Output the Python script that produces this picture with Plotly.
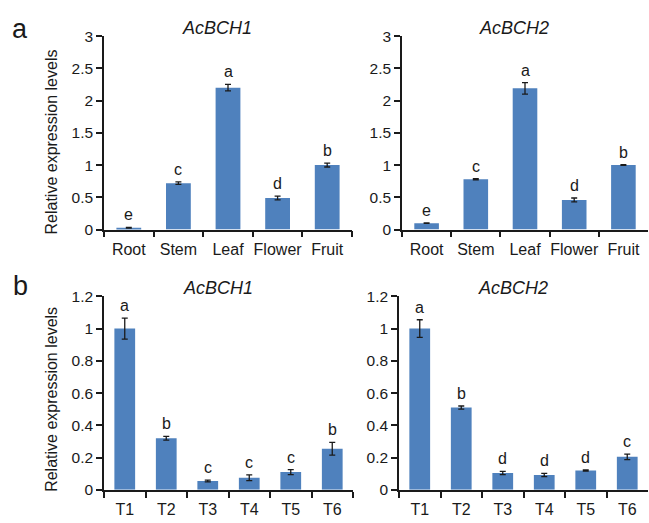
import plotly.graph_objects as go

tissues = ["Root", "Stem", "Leaf", "Flower", "Fruit"]
a1_vals = [0.03, 0.72, 2.20, 0.49, 1.00]
a1_err = [0.005, 0.02, 0.05, 0.03, 0.03]
a1_sig = ["e", "c", "a", "d", "b"]
a2_vals = [0.10, 0.78, 2.19, 0.46, 1.00]
a2_err = [0.005, 0.01, 0.09, 0.03, 0.005]
a2_sig = ["e", "c", "a", "d", "b"]

treatments = ["T1", "T2", "T3", "T4", "T5", "T6"]
b1_vals = [1.00, 0.32, 0.055, 0.075, 0.11, 0.255]
b1_err = [0.065, 0.012, 0.005, 0.018, 0.015, 0.04]
b1_sig = ["a", "b", "c", "c", "c", "b"]
b2_vals = [1.00, 0.51, 0.105, 0.092, 0.12, 0.205]
b2_err = [0.055, 0.01, 0.01, 0.01, 0.003, 0.017]
b2_sig = ["a", "b", "d", "d", "d", "c"]

y_ticks_a = [0, 0.5, 1, 1.5, 2, 2.5, 3]
y_ticks_a_text = ["0", "0.5", "1", "1.5", "2", "2.5", "3"]
y_ticks_b = [0, 0.2, 0.4, 0.6, 0.8, 1.0, 1.2]
y_ticks_b_text = ["0", "0.2", "0.4", "0.6", "0.8", "1", "1.2"]

W, H = 649, 523
BAR = "#4F81BD"
INK = "#1a1a1a"
FONT = "Arial, Liberation Sans, sans-serif"

panels = [
    (tissues, a1_vals, a1_err, a1_sig, "AcBCH1", 104, 352, 28, 228, 3, y_ticks_a, y_ticks_a_text),
    (tissues, a2_vals, a2_err, a2_sig, "AcBCH2", 402, 648, 28, 228, 3, y_ticks_a, y_ticks_a_text),
    (treatments, b1_vals, b1_err, b1_sig, "AcBCH1", 104, 353, 297, 497, 1.2, y_ticks_b, y_ticks_b_text),
    (treatments, b2_vals, b2_err, b2_sig, "AcBCH2", 399, 648, 297, 497, 1.2, y_ticks_b, y_ticks_b_text),
]

fig = go.Figure()
annotations = []
layout = {}
for i, (cats, vals, err, sig, title, x0, x1, yt, yb, ymax, tv, tt) in enumerate(panels):
    n = i + 1
    xa = "x" if n == 1 else f"x{n}"
    ya = "y" if n == 1 else f"y{n}"
    fig.add_trace(go.Bar(
        x=cats, y=vals, xaxis=xa, yaxis=ya, width=0.5,
        marker=dict(color=BAR, line=dict(width=0)),
        error_y=dict(type="data", array=err, color=INK, thickness=1.3, width=3),
        showlegend=False,
    ))
    layout[f"xaxis{'' if n == 1 else n}"] = dict(
        domain=[x0 / W, x1 / W], anchor=ya, type="category",
        range=[-0.5, len(cats) - 0.5],
        showline=True, linecolor=INK, linewidth=1.6,
        ticks="outside", tickson="boundaries", ticklen=6, tickwidth=1.5, tickcolor=INK,
        tickangle=0, ticklabelstandoff=4,
        tickfont=dict(family=FONT, size=16, color=INK),
        showgrid=False, zeroline=False, fixedrange=True,
    )
    layout[f"yaxis{'' if n == 1 else n}"] = dict(
        domain=[1 - yb / H, 1 - yt / H], anchor=xa, range=[0, ymax],
        tickvals=tv, ticktext=tt,
        showline=True, linecolor=INK, linewidth=1.6,
        ticks="outside", ticklen=6, tickwidth=1.5, tickcolor=INK,
        tickfont=dict(family=FONT, size=15.5, color=INK),
        showgrid=False, zeroline=False, fixedrange=True,
    )
    for c, v, e, s in zip(cats, vals, err, sig):
        annotations.append(dict(
            x=c, y=v + e, xref=xa, yref=ya, text=s, showarrow=False,
            yanchor="bottom", yshift=2,
            font=dict(family=FONT, size=16, color=INK),
        ))
    annotations.append(dict(
        x=((x0 + x1) / 2 - 11) / W, y=1 - (yt - 8.5) / H, xref="paper", yref="paper",
        text=f"<i>{title}</i>", showarrow=False, xanchor="center", yanchor="middle",
        font=dict(family=FONT, size=18, color=INK),
    ))

for yc in [138, 404]:
    annotations.append(dict(
        x=52 / W, y=1 - yc / H, xref="paper", yref="paper",
        text="Relative expression levels", textangle=-90, showarrow=False,
        xanchor="center", yanchor="middle",
        font=dict(family=FONT, size=16, color=INK),
    ))

for lbl, yc in [("a", 20.5), ("b", 286)]:
    annotations.append(dict(
        x=20 / W, y=1 - yc / H, xref="paper", yref="paper",
        text=lbl, showarrow=False, xanchor="center", yanchor="middle",
        font=dict(family=FONT, size=27, color=INK),
    ))

fig.update_layout(
    width=W, height=H, margin=dict(l=0, r=0, t=0, b=0),
    paper_bgcolor="white", plot_bgcolor="white",
    annotations=annotations, bargap=0.5,
    **layout,
)
fig.write_html("out.html",
               post_script="document.body.style.margin='0';document.body.style.overflow='hidden';",
               config={"displayModeBar": False})
